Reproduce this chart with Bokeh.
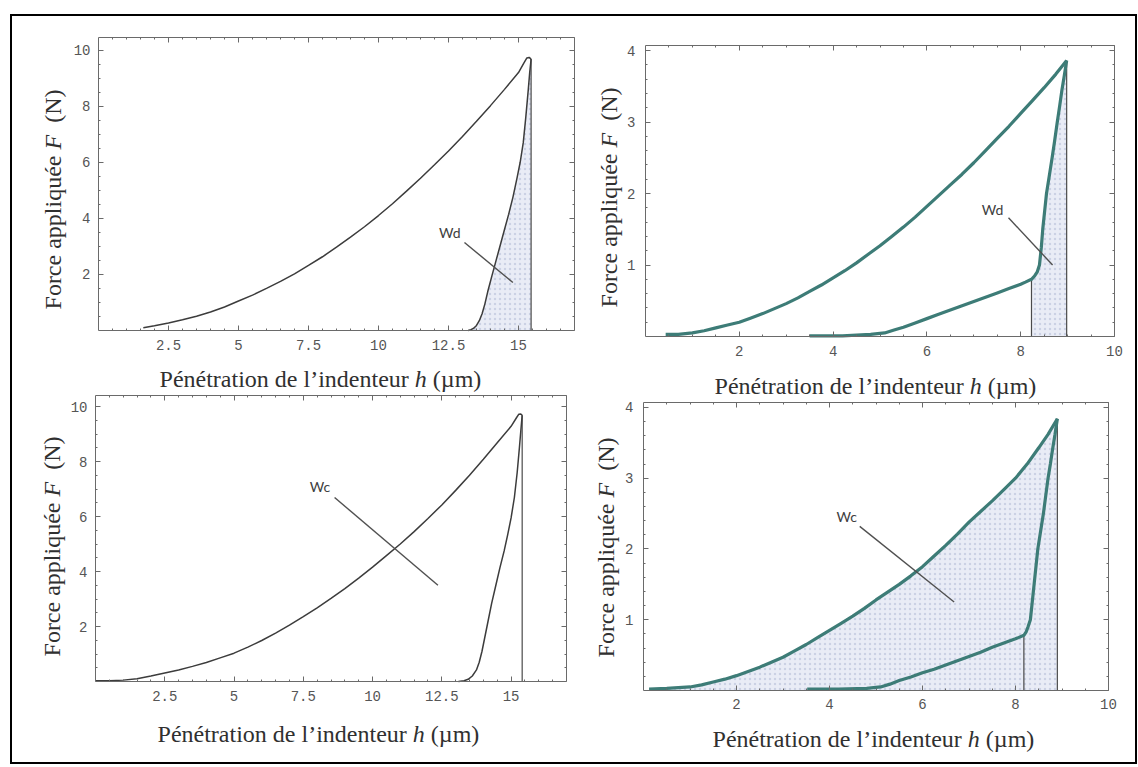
import math
from bokeh.plotting import figure
from bokeh.models import Range1d, FixedTicker, LinearAxis, Label
from bokeh.layouts import column
from bokeh.embed import file_html
from bokeh.resources import INLINE
from bokeh.core.properties import value

# ---------------- data ----------------
# Top-left panel (Wd, grey curves)
tl_load_h = [1.6, 2.0, 2.5, 3.0, 3.5, 4.0, 4.5, 5.0, 5.5, 6.0, 6.5, 7.0, 7.5, 8.0, 8.5, 9.0, 9.5, 10.0,
             10.5, 11.0, 11.5, 12.0, 12.5, 13.0, 13.5, 14.0, 14.5, 15.0, 15.2, 15.3, 15.38, 15.45]
tl_load_F = [0.1, 0.17, 0.27, 0.38, 0.51, 0.66, 0.84, 1.05, 1.26, 1.5, 1.75, 2.02, 2.32, 2.63, 2.97, 3.33, 3.7, 4.1,
             4.52, 4.97, 5.43, 5.91, 6.4, 6.92, 7.46, 8.02, 8.6, 9.2, 9.55, 9.72, 9.74, 9.68]
tl_unload_h = [15.45, 15.4, 15.35, 15.26, 15.17, 15.06, 14.95, 14.8, 14.65, 14.5, 14.35, 14.2, 14.05,
               13.9, 13.8, 13.7, 13.6, 13.5, 13.4, 13.3, 13.2]
tl_unload_F = [9.68, 9.2, 8.6, 7.6, 6.7, 6.0, 5.45, 4.75, 4.15, 3.6, 3.05, 2.5, 1.95,
               1.38, 0.95, 0.6, 0.35, 0.18, 0.08, 0.03, 0.0]

# Bottom-left panel (Wc, grey curves)
bl_load_h = [0.0, 0.5, 1.0, 1.5, 2.0, 2.5, 3.0, 3.5, 4.0, 4.5, 5.0, 5.5, 6.0, 6.5, 7.0, 7.5, 8.0, 8.5, 9.0,
             9.5, 10.0, 10.5, 11.0, 11.5, 12.0, 12.5, 13.0, 13.5, 14.0, 14.5, 15.0, 15.2, 15.28, 15.35, 15.4]
bl_load_F = [0.03, 0.03, 0.05, 0.1, 0.2, 0.31, 0.42, 0.55, 0.69, 0.86, 1.03, 1.25, 1.49, 1.76, 2.05, 2.36, 2.68,
             3.02, 3.38, 3.76, 4.16, 4.58, 5.0, 5.45, 5.93, 6.42, 6.95, 7.5, 8.08, 8.68, 9.28, 9.6, 9.72, 9.73, 9.68]
bl_unload_h = [15.4, 15.35, 15.3, 15.22, 15.12, 15.0, 14.88, 14.75, 14.6, 14.45, 14.3, 14.17, 14.05,
               13.95, 13.85, 13.75, 13.6, 13.45, 13.3, 13.1]
bl_unload_F = [9.68, 9.1, 8.5, 7.6, 6.7, 5.95, 5.35, 4.75, 4.15, 3.5, 2.85, 2.2, 1.6,
               1.1, 0.7, 0.42, 0.2, 0.08, 0.03, 0.0]

# Top-right panel (Wd, teal curves)
tr_load_h = [0.43, 0.7, 1.0, 1.25, 1.5, 1.75, 2.0, 2.25, 2.5, 2.75, 3.0, 3.25, 3.5, 3.75, 4.0, 4.25, 4.5,
             4.75, 5.0, 5.25, 5.5, 5.75, 6.0, 6.25, 6.5, 6.75, 7.0, 7.25, 7.5, 7.75, 8.0, 8.25, 8.5, 8.75, 8.98]
tr_load_F = [0.03, 0.03, 0.05, 0.08, 0.12, 0.16, 0.2, 0.26, 0.32, 0.39, 0.46, 0.54, 0.63, 0.72, 0.82, 0.92,
             1.03, 1.15, 1.27, 1.4, 1.53, 1.67, 1.82, 1.97, 2.12, 2.27, 2.43, 2.6, 2.77, 2.94, 3.12, 3.3, 3.48,
             3.67, 3.86]
tr_unload_h = [8.98, 8.93, 8.88, 8.83, 8.78, 8.72, 8.67, 8.61, 8.55, 8.51, 8.47, 8.44, 8.4, 8.35, 8.3, 8.23,
               8.1, 8.0, 7.75, 7.5, 7.25, 7.0, 6.75, 6.5, 6.25, 6.0, 5.75, 5.5, 5.3, 5.1, 4.8, 4.2, 3.5]
tr_unload_F = [3.86, 3.65, 3.45, 3.22, 3.0, 2.72, 2.5, 2.25, 2.0, 1.75, 1.5, 1.25, 1.0, 0.9, 0.85, 0.8,
               0.76, 0.73, 0.67, 0.61, 0.55, 0.49, 0.43, 0.37, 0.31, 0.25, 0.19, 0.13, 0.09, 0.05, 0.03, 0.01, 0.01]

# Bottom-right panel (Wc, teal curves)
br_load_h = [0.12, 0.5, 1.0, 1.25, 1.5, 1.75, 2.0, 2.25, 2.5, 2.75, 3.0, 3.25, 3.5, 3.75, 4.0, 4.25, 4.5,
             4.75, 5.0, 5.25, 5.5, 5.75, 6.0, 6.25, 6.5, 6.75, 7.0, 7.25, 7.5, 7.75, 8.0, 8.25, 8.5, 8.7, 8.9]
br_load_F = [0.02, 0.03, 0.05, 0.08, 0.12, 0.16, 0.21, 0.27, 0.33, 0.4, 0.47, 0.56, 0.65, 0.75, 0.85, 0.95,
             1.05, 1.16, 1.28, 1.39, 1.5, 1.62, 1.75, 1.9, 2.05, 2.21, 2.38, 2.53, 2.68, 2.84, 3.0, 3.2, 3.43,
             3.62, 3.84]
br_unload_h = [8.9, 8.85, 8.8, 8.75, 8.7, 8.65, 8.6, 8.54, 8.48, 8.44, 8.4, 8.36, 8.32, 8.27, 8.23, 8.18,
               8.0, 7.75, 7.5, 7.25, 7.0, 6.75, 6.5, 6.25, 6.0, 5.75, 5.5, 5.3, 5.1, 4.8, 4.2, 3.52]
br_unload_F = [3.84, 3.62, 3.42, 3.2, 3.0, 2.75, 2.5, 2.25, 2.0, 1.75, 1.5, 1.25, 1.0, 0.9, 0.83, 0.78,
               0.73, 0.67, 0.61, 0.54, 0.48, 0.42, 0.36, 0.3, 0.25, 0.19, 0.14, 0.09, 0.05, 0.03, 0.02, 0.02]
tr_knee_h = 8.23
br_knee_h = 8.18

# ticks
left_x_ticks = [2.5, 5, 7.5, 10, 12.5, 15]
left_x_labels = ["2.5", "5", "7.5", "10", "12.5", "15"]
left_y_ticks = [2, 4, 6, 8, 10]
left_y_labels = ["2", "4", "6", "8", "10"]
right_x_ticks = [2, 4, 6, 8, 10]
right_x_labels = ["2", "4", "6", "8", "10"]
right_y_ticks = [1, 2, 3, 4]
right_y_labels = ["1", "2", "3", "4"]

# annotations: text, text x, text y, leader xs, leader ys
tl_note = ("Wd", 12.55, 3.5, [13.07, 14.8], [3.14, 1.71])
tr_note = ("Wd", 7.4, 1.77, [7.74, 8.68], [1.66, 1.0])
bl_note = ("Wc", 8.1, 7.08, [8.63, 12.36], [6.69, 3.5])
br_note = ("Wc", 4.37, 2.46, [4.65, 6.68], [2.32, 1.25])

# axis titles, as (text, italic) pieces
XLABEL = [("Pénétration de l’indenteur ", False), ("h", True), (" (µm)", False)]
YLABEL = [("Force appliquée ", False), ("F", True), ("  (N)", False)]

AX_COL = "#6a6a6a"
FILL = "#e9ecf6"
GREY = "#3c3c3c"
TEAL = "#3d7c77"
LABEL_FONT = "Liberation Serif"
LABEL_SIZE = 24

# canvas: page origin and size
OX, OY = 12, 16
W, H = 1123, 746

# Times / Liberation Serif advance widths (1/1000 em)
TW = {' ': 250, '(': 333, ')': 333, 'F': 556, 'N': 722, 'P': 556, 'a': 444, 'c': 444, 'd': 500,
      'e': 444, 'é': 444, 'i': 278, 'l': 278, 'n': 500, 'o': 500, 'p': 500, 'q': 500, 'r': 333,
      't': 278, 'u': 500, 'µ': 500, 'm': 778, '’': 333, 'h': 500}
TWI = {'F': 611, 'h': 500}


def text_width(s, italic):
    tbl = TWI if italic else TW
    return sum(tbl.get(c, TW.get(c, 500)) for c in s) / 1000.0 * LABEL_SIZE


def frange(a, b, s):
    out = []
    v = a
    while v <= b + 1e-9:
        out.append(round(v, 4))
        v += s
    return out


p = figure(width=W, height=H, x_range=Range1d(0, W), y_range=Range1d(0, H),
           x_axis_location=None, y_axis_location=None,
           output_backend="svg", toolbar_location=None,
           min_border_left=0, min_border_right=0, min_border_top=0, min_border_bottom=0)
p.grid.visible = False
p.outline_line_color = None
p.background_fill_color = "white"
p.border_fill_color = "white"


def rich_label(pieces, centre, base, vertical):
    """centre / base in page pixels; converted to canvas px (from bottom-left)"""
    if vertical:
        c = H - (centre - OY)
        b = base - OX
    else:
        c = centre - OX
        b = H - (base - OY)
    total = sum(text_width(t, it) for t, it in pieces)
    pos = c - total / 2.0
    for t, it in pieces:
        lead = len(t) - len(t.lstrip(" "))
        shown = t.strip(" ")
        off = text_width(" " * lead, False)
        kw = dict(x_units="screen", y_units="screen", text=shown, text_font=LABEL_FONT,
                  text_font_size=f"{LABEL_SIZE}px", text_color="#303030",
                  text_font_style="italic" if it else "normal",
                  text_align="left", text_baseline="alphabetic")
        if vertical:
            lab = Label(x=b, y=pos + off, angle=math.pi / 2, **kw)
        else:
            lab = Label(x=pos + off, y=b, **kw)
        p.add_layout(lab)
        pos += text_width(t, it)


def style_axis(ax, ticks, minor, labels=None):
    ax.ticker = FixedTicker(ticks=ticks, minor_ticks=minor)
    ax.axis_line_color = AX_COL
    ax.axis_line_width = 1
    ax.major_tick_in = 5
    ax.major_tick_out = 0
    ax.minor_tick_in = 2
    ax.minor_tick_out = 0
    ax.major_tick_line_color = AX_COL
    ax.minor_tick_line_color = AX_COL
    ax.axis_label = None
    if labels is None:
        ax.major_label_overrides = {t: "" for t in ticks}
        ax.major_label_text_color = None
        ax.major_label_standoff = 0
    else:
        ax.major_label_overrides = {t: l for t, l in zip(ticks, labels)}
        ax.major_label_text_font = "Liberation Mono"
        ax.major_label_text_font_size = "14px"
        ax.major_label_text_color = "#555555"


def panel(name, box, xr, yr, xt, xl, xminor, yt, yl, yminor, xstand, ystand):
    L, R, T, B = box[0] - OX, box[1] - OX, box[2] - OY, box[3] - OY
    x0, x1 = xr
    y0, y1 = yr
    sx = (x1 - x0) / (R - L)
    sy = (y1 - y0) / (B - T)
    p.extra_x_ranges[name] = Range1d(x0 - L * sx, x1 + (W - R) * sx)
    p.extra_y_ranges[name] = Range1d(y0 - (H - B) * sy, y1 + T * sy)
    rn = dict(x_range_name=name, y_range_name=name)

    bottom = LinearAxis(fixed_location=y0, bounds=(x0, x1), **rn)
    style_axis(bottom, xt, xminor, xl)
    bottom.major_label_standoff = xstand
    p.add_layout(bottom, "below")
    left = LinearAxis(fixed_location=x0, bounds=(y0, y1), **rn)
    style_axis(left, yt, yminor, yl)
    left.major_label_standoff = ystand
    p.add_layout(left, "left")
    top = LinearAxis(fixed_location=y1, bounds=(x0, x1), **rn)
    style_axis(top, xt, xminor)
    p.add_layout(top, "above")
    right = LinearAxis(fixed_location=x1, bounds=(y0, y1), **rn)
    style_axis(right, yt, yminor)
    p.add_layout(right, "right")
    return rn


def add_note(rn, note):
    txt, tx, ty, lx, ly = note
    p.line(lx, ly, line_color="#505050", line_width=1.4, **rn)
    p.text(x=[tx], y=[ty], text=[txt], text_font=value("Lato"), text_font_size="14px",
           text_color="#404040", text_align="center", text_baseline="middle", **rn)


def shade(rn, xs, ys):
    p.patch(xs, ys, fill_color=FILL, line_color=None, hatch_pattern="dot",
            hatch_color="#cbd1e4", hatch_scale=5, hatch_weight=0.8, **rn)


def vline(rn, xv, top):
    p.line([xv, xv], [0, top], line_color="#4a4a4a", line_width=1.2, **rn)


# ---------------- top-left ----------------
r1 = panel("tl", (98, 574, 37, 330), (0, 17.0), (0, 10.45),
           left_x_ticks, left_x_labels, frange(0.5, 17, 0.5),
           left_y_ticks, left_y_labels, frange(0.5, 10.4, 0.5), 9, 8)
shade(r1, tl_unload_h + [tl_unload_h[0]], tl_unload_F + [0.0])
vline(r1, tl_unload_h[0], tl_unload_F[0])
p.line(tl_load_h, tl_load_F, line_color=GREY, line_width=1.5, **r1)
p.line(tl_unload_h, tl_unload_F, line_color=GREY, line_width=1.5, **r1)
add_note(r1, tl_note)
rich_label(XLABEL, 319, 378, False)
rich_label(YLABEL, 199, 52, True)

# ---------------- top-right ----------------
r2 = panel("tr", (645, 1114, 45, 336), (0, 10.0), (0, 4.07),
           right_x_ticks, right_x_labels, frange(0.5, 10, 0.5),
           right_y_ticks, right_y_labels, frange(0.2, 4.0, 0.2), 9, 10)
knee = tr_unload_h.index(tr_knee_h)
wd_h = tr_unload_h[:knee + 1]
wd_F = tr_unload_F[:knee + 1]
shade(r2, wd_h + [wd_h[-1], wd_h[0]], wd_F + [0.0, 0.0])
vline(r2, wd_h[0], wd_F[0])
vline(r2, wd_h[-1], wd_F[-1])
p.line(tr_load_h, tr_load_F, line_color=TEAL, line_width=3.2, **r2)
p.line(tr_unload_h, tr_unload_F, line_color=TEAL, line_width=3.2, **r2)
add_note(r2, tr_note)
rich_label(XLABEL, 874, 385, False)
rich_label(YLABEL, 197, 608, True)

# ---------------- bottom-left ----------------
r3 = panel("bl", (95, 566, 395, 681), (0, 17.0), (0, 10.4),
           left_x_ticks, left_x_labels, frange(0.5, 17, 0.5),
           left_y_ticks, left_y_labels, frange(0.5, 10.4, 0.5), 9, 8)
vline(r3, bl_unload_h[0], bl_unload_F[0])
p.line(bl_load_h, bl_load_F, line_color=GREY, line_width=1.5, **r3)
p.line(bl_unload_h, bl_unload_F, line_color=GREY, line_width=1.5, **r3)
add_note(r3, bl_note)
rich_label(XLABEL, 317, 733, False)
rich_label(YLABEL, 546, 51, True)

# ---------------- bottom-right ----------------
r4 = panel("br", (643, 1108, 402, 690), (0, 10.0), (0, 4.07),
           right_x_ticks, right_x_labels, frange(0.5, 10, 0.5),
           right_y_ticks, right_y_labels, frange(0.2, 4.0, 0.2), 8, 10)
shade(r4, br_load_h + [br_load_h[-1], br_load_h[0]], br_load_F + [0.0, 0.0])
kn = br_unload_h.index(br_knee_h)
vline(r4, br_unload_h[0], br_unload_F[0])
vline(r4, br_unload_h[kn], br_unload_F[kn])
p.line(br_load_h, br_load_F, line_color=TEAL, line_width=3.2, **r4)
p.line(br_unload_h, br_unload_F, line_color=TEAL, line_width=3.2, **r4)
add_note(r4, br_note)
rich_label(XLABEL, 872, 738, False)
rich_label(YLABEL, 547, 605, True)

layout = column(p, styles={"border": "2px solid black", "background-color": "white"},
                margin=(14, 0, 0, 10))

open("out.html", "w").write(file_html(layout, INLINE))
